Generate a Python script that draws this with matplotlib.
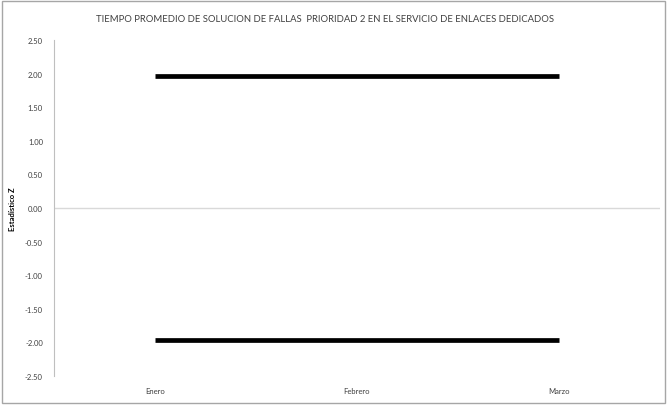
import matplotlib
matplotlib.use("Agg")
import matplotlib.pyplot as plt
from matplotlib.patches import Rectangle

meses = ["Enero", "Febrero", "Marzo"]
limite_superior = [1.96, 1.96, 1.96]
limite_inferior = [-1.96, -1.96, -1.96]
yticks = [2.5, 2.0, 1.5, 1.0, 0.5, 0.0, -0.5, -1.0, -1.5, -2.0, -2.5]

plt.rcParams['font.family'] = ['Lato', 'DejaVu Sans']

fig = plt.figure(figsize=(6.68, 4.06), dpi=100)
ax = fig.add_axes([54 / 668, 1 - 377 / 406, 606 / 668, 336 / 406])

x = range(len(meses))
ax.plot(x, limite_superior, color='black', linewidth=3.4, solid_capstyle='butt')
ax.plot(x, limite_inferior, color='black', linewidth=3.4, solid_capstyle='butt')
ax.axhline(0, color='#d9d9d9', linewidth=1)

ax.set_xlim(-0.5, 2.5)
ax.set_ylim(-2.5, 2.5)
ax.set_yticks(yticks)
ax.set_yticklabels([f"{v:.2f}" for v in yticks], fontsize=5.5, color='#404040')
ax.set_xticks(list(x))
ax.set_xticklabels(meses, fontsize=5.5, color='#404040')
ax.tick_params(axis='y', length=0, pad=8)
ax.tick_params(axis='x', length=0, pad=8)

for s in ['top', 'right', 'bottom']:
    ax.spines[s].set_visible(False)
ax.spines['left'].set_color('#bfbfbf')
ax.spines['left'].set_linewidth(0.8)

ax.set_ylabel("Estadístico Z", fontsize=5.5, fontweight='bold')
ax.yaxis.set_label_coords(-0.062, 0.5)
fig.text(325 / 668, 1 - 19 / 406, "TIEMPO PROMEDIO DE SOLUCION DE FALLAS  PRIORIDAD 2 EN EL SERVICIO DE ENLACES DEDICADOS",
         ha='center', va='center', fontsize=6.8, color='#404040')

fig.patches.append(Rectangle((2 / 668, 2 / 406), 663 / 668, 402 / 406, transform=fig.transFigure,
                             fill=False, edgecolor='#a6a6a6', linewidth=1))

fig.savefig("out.png", dpi=100)
